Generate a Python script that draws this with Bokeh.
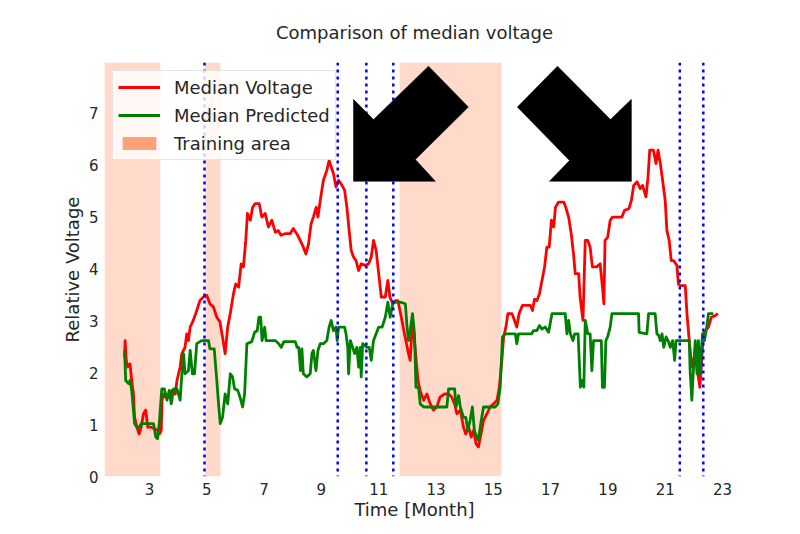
from bokeh.plotting import figure
from bokeh.models import Range1d, FixedTicker, Span, BoxAnnotation, Legend, LegendItem
from bokeh.embed import file_html
from bokeh.resources import INLINE

# ---- data ----
red_x = [2.13, 2.15, 2.19, 2.24, 2.32, 2.38, 2.44, 2.48, 2.56, 2.64, 2.71, 2.79, 2.87, 2.94, 3.06, 3.17,
         3.28, 3.35, 3.41, 3.44, 3.49, 3.55, 3.66, 3.78, 3.90, 3.96, 4.07, 4.13, 4.24, 4.30, 4.36, 4.42,
         4.53, 4.65, 4.76, 4.88, 5.00, 5.11, 5.23, 5.35, 5.46, 5.53, 5.64, 5.73, 5.82, 5.93, 6.01, 6.11,
         6.20, 6.28, 6.36, 6.42, 6.52, 6.60, 6.69, 6.83, 6.92, 7.04, 7.15, 7.27, 7.39, 7.50, 7.59, 7.73,
         7.91, 8.02, 8.14, 8.26, 8.37, 8.46, 8.55, 8.64, 8.72, 8.82, 8.88, 8.96, 9.07, 9.19, 9.27, 9.34,
         9.42, 9.51, 9.60, 9.69, 9.81, 9.89, 9.97, 10.04, 10.12, 10.21, 10.30, 10.39, 10.53, 10.65, 10.74,
         10.82, 10.91, 11.00, 11.09, 11.23, 11.32, 11.39, 11.49, 11.58, 11.67, 11.79, 11.90, 12.04, 12.10,
         12.18, 12.27, 12.37, 12.45, 12.57, 12.68, 12.80, 12.91, 13.03, 13.14, 13.30, 13.44, 13.55, 13.65,
         13.73, 13.85, 13.96, 14.04, 14.14, 14.23, 14.31, 14.40, 14.48, 14.57, 14.66, 14.78, 14.89, 15.01,
         15.13, 15.21, 15.30, 15.36, 15.44, 15.51, 15.65, 15.74, 15.82, 15.90, 16.02, 16.17, 16.29, 16.37,
         16.44, 16.52, 16.61, 16.70, 16.79, 16.87, 16.95, 17.03, 17.11, 17.17, 17.28, 17.46, 17.53, 17.63,
         17.72, 17.80, 17.86, 17.98, 18.03, 18.13, 18.21, 18.30, 18.38, 18.46, 18.61, 18.73, 18.81, 18.86,
         18.90, 18.99, 19.08, 19.16, 19.31, 19.49, 19.58, 19.73, 19.82, 19.90, 20.02, 20.13, 20.21, 20.33,
         20.40, 20.46, 20.59, 20.68, 20.75, 20.83, 20.91, 21.00, 21.06, 21.14, 21.21, 21.29, 21.41, 21.46,
         21.52, 21.70, 21.76, 21.84, 21.93, 22.05, 22.14, 22.21, 22.26, 22.33, 22.42, 22.51, 22.61, 22.75,
         22.84]
red_y = [2.30, 2.62, 2.24, 2.11, 2.17, 1.85, 1.59, 1.14, 0.95, 0.82, 0.95, 1.21, 1.28, 0.95, 0.95, 0.92,
         0.89, 0.82, 0.89, 1.47, 1.59, 1.53, 1.53, 1.66, 1.59, 1.85, 2.11, 2.37, 2.49, 2.75, 2.62, 2.88,
         3.01, 3.20, 3.39, 3.46, 3.49, 3.33, 3.27, 3.07, 2.98, 2.75, 2.37, 2.88, 3.14, 3.52, 3.71, 3.65,
         4.10, 4.04, 4.55, 5.07, 4.94, 5.19, 5.26, 5.26, 5.00, 5.07, 4.81, 4.94, 4.71, 4.74, 4.65, 4.68,
         4.68, 4.78, 4.68, 4.55, 4.42, 4.29, 4.48, 4.87, 5.00, 5.19, 5.00, 5.32, 5.71, 5.90, 6.09, 5.97,
         5.84, 5.58, 5.71, 5.64, 5.52, 5.19, 4.74, 4.36, 4.23, 4.16, 3.97, 4.10, 4.07, 4.10, 4.23,
         4.55, 4.36, 3.91, 3.46, 3.46, 3.78, 3.46, 3.33, 3.39, 3.39, 3.07, 2.75, 2.37, 2.24,
         3.01, 2.49, 1.85, 1.65, 1.47, 1.59, 1.40, 1.28, 1.34, 1.53, 1.59, 1.59, 1.53, 1.40,
         1.21, 1.28, 0.95, 0.82, 0.95, 0.76, 0.89, 0.63, 0.57, 0.82, 1.08, 1.21, 1.34, 1.40,
         1.47, 1.72, 2.24, 2.69, 2.88, 3.14, 3.14, 3.01, 2.88, 3.14, 3.30, 3.30, 3.30, 3.20,
         3.42, 3.39, 3.52, 3.78, 4.04, 4.42, 4.42, 4.94, 4.81, 5.19, 5.29, 5.29, 5.19, 5.00,
         4.68, 4.29, 3.91, 3.91, 3.46, 3.01, 4.55, 4.55, 4.42, 4.04, 4.04, 4.10, 3.65, 3.33,
         4.55, 4.61, 4.94, 5.00, 5.00, 5.00, 5.13, 5.16, 5.32, 5.61, 5.68, 5.55, 5.61, 5.39,
         5.77, 6.29, 6.29, 6.03, 6.29, 6.03, 5.71, 5.32, 4.74, 4.55, 4.16, 4.16, 4.07, 3.71,
         3.68, 3.68, 3.14, 2.62, 2.11, 2.37, 1.98, 1.72, 2.11, 2.75, 2.82, 2.88, 3.07, 3.10,
         3.14]

green_x = [2.13, 2.17, 2.27, 2.32, 2.38, 2.48, 2.56, 2.64, 2.71, 2.83, 2.97, 3.14, 3.22, 3.28, 3.34, 3.43,
           3.52, 3.61, 3.69, 3.76, 3.84, 3.96, 4.07, 4.13, 4.19, 4.24, 4.36, 4.42, 4.50, 4.57, 4.65, 4.82,
           5.06, 5.11, 5.26, 5.35, 5.41, 5.47, 5.55, 5.64, 5.73, 5.82, 5.90, 5.97, 6.08, 6.16, 6.25, 6.32,
           6.40, 6.57, 6.67, 6.76, 6.82, 6.88, 6.93, 7.02, 7.07, 7.22, 7.39, 7.51, 7.60, 7.69, 7.97, 8.09,
           8.15, 8.21, 8.27, 8.32, 8.37, 8.49, 8.61, 8.67, 8.72, 8.81, 8.88, 8.96, 9.07, 9.19, 9.27, 9.34,
           9.42, 9.51, 9.55, 9.60, 9.81, 9.86, 9.92, 9.95, 10.01, 10.09, 10.16, 10.24, 10.30, 10.36, 10.39,
           10.44, 10.59, 10.67, 10.74, 10.82, 10.91, 11.00, 11.12, 11.23, 11.32, 11.40, 11.49, 11.58, 11.75,
           11.93, 11.99, 12.04, 12.10, 12.18, 12.25, 12.30, 12.39, 12.45, 12.57, 12.74, 13.09, 13.38, 13.44,
           13.65, 13.70, 13.79, 13.85, 13.96, 14.04, 14.11, 14.19, 14.27, 14.34, 14.42, 14.48, 14.58, 14.66,
           15.07, 15.16, 15.24, 15.32, 15.42, 15.77, 15.82, 15.88, 16.34, 16.40, 16.52, 16.61, 16.70, 16.81,
           16.93, 17.05, 17.51, 17.57, 17.63, 17.69, 17.78, 17.84, 17.96, 18.04, 18.10, 18.16, 18.21, 18.30,
           18.38, 18.44, 18.50, 18.77, 18.81, 18.88, 18.93, 18.99, 19.08, 19.14, 20.07, 20.09, 20.36, 20.42,
           20.65, 20.71, 20.77, 20.83, 20.89, 20.95, 21.03, 21.10, 21.18, 21.26, 21.33, 21.38, 21.84, 21.87,
           21.93, 21.99, 22.05, 22.11, 22.16, 22.22, 22.30, 22.37, 22.45, 22.51, 22.68]
green_y = [2.43, 1.85, 1.79, 1.85, 1.66, 1.02, 0.95, 0.95, 1.02, 1.02, 1.02, 1.02, 0.76, 0.73, 1.02, 1.69,
           1.69, 1.47, 1.66, 1.40, 1.69, 1.69, 1.47, 1.98, 2.37, 1.98, 2.04, 2.43, 1.98, 1.98, 2.56, 2.62,
           2.62, 2.46, 2.46, 1.85, 1.40, 1.02, 1.14, 1.59, 1.40, 1.98, 1.92, 1.69, 1.66, 1.53, 1.34, 1.59,
           2.56, 2.60, 2.78, 2.81, 3.07, 3.07, 2.62, 2.88, 2.62, 2.62, 2.62, 2.56, 2.49, 2.60, 2.60, 2.60,
           2.49, 2.49, 2.04, 2.46, 1.98, 1.92, 1.98, 2.37, 2.43, 2.04, 2.43, 2.56, 2.56, 2.62, 2.88, 3.01,
           2.81, 2.88, 2.62, 2.88, 2.88, 2.75, 2.49, 1.98, 2.62, 2.49, 2.37, 2.49, 2.11, 2.49, 1.92,
           2.56, 2.49, 2.49, 2.24, 2.62, 2.75, 2.88, 2.88, 3.07, 3.36, 3.07, 3.33, 3.36, 3.36,
           3.33, 2.88, 2.62, 2.81, 3.14, 2.75, 1.72, 1.72, 1.40, 1.34, 1.34, 1.34, 1.34, 1.69,
           1.69, 1.34, 1.56, 1.34, 1.14, 1.14, 0.89, 1.08, 1.34, 0.89, 0.76, 0.70, 1.08, 1.34,
           1.34, 1.40, 1.72, 2.69, 2.75, 2.75, 2.56, 2.75, 2.75, 2.81, 2.81, 2.91, 2.84, 2.88,
           2.78, 3.14, 3.14, 2.75, 3.01, 2.75, 2.62, 2.75, 2.75, 1.72, 1.85, 1.72, 3.01, 2.75,
           2.75, 2.04, 2.62, 2.62, 1.72, 1.72, 2.62, 2.69, 2.88, 3.14, 3.14, 2.78, 2.75, 3.14,
           3.14, 2.75, 2.72, 2.62, 2.75, 2.49, 2.69, 2.62, 2.49, 2.62, 2.24, 2.62, 2.62, 2.04,
           1.47, 2.11, 2.62, 1.98, 2.62, 1.98, 2.75, 2.62, 2.88, 3.14, 3.14]

train_start = [1.43, 4.95, 11.73]
train_end = [3.38, 5.48, 15.29]
event_months = [4.92, 9.57, 10.57, 11.51, 21.51, 22.33]

arrow_sw_x = [10.12, 10.12, 10.82, 12.74, 14.13, 12.28, 12.98]
arrow_sw_y = [5.69, 7.27, 6.88, 7.91, 7.12, 6.11, 5.69]
arrow_se_x = [19.82, 19.82, 19.09, 17.24, 15.84, 17.66, 16.96]
arrow_se_y = [5.69, 7.27, 6.88, 7.91, 7.12, 6.09, 5.69]

x_ticks = [3, 5, 7, 9, 11, 13, 15, 17, 19, 21, 23]
y_ticks = [0, 1, 2, 3, 4, 5, 6, 7]

TXT = "#262626"
FONT = "DejaVu Sans"
Y0, Y1 = 0, 7.98

p = figure(frame_width=620, frame_height=414,
           min_border_left=104, min_border_top=62, min_border_right=50, min_border_bottom=40,
           x_range=Range1d(1.43, 23.07), y_range=Range1d(Y0, Y1),
           output_backend="svg", toolbar_location=None,
           title="Comparison of median voltage",
           x_axis_label="Time [Month]", y_axis_label="Relative Voltage")

p.background_fill_color = "white"
p.border_fill_color = "white"
p.outline_line_color = None
p.xgrid.visible = False
p.ygrid.visible = False

p.title.text_font = FONT
p.title.text_font_size = "18px"
p.title.text_font_style = "normal"
p.title.text_color = TXT
p.title.align = "center"
p.title.text_line_height = 1.0
p.title.standoff = 39

for ax in (p.xaxis[0], p.yaxis[0]):
    ax.axis_line_color = None
    ax.major_tick_line_color = None
    ax.minor_tick_line_color = None
    ax.major_tick_out = 0
    ax.major_tick_in = 0
    ax.major_label_text_font = FONT
    ax.major_label_text_font_size = "15px"
    ax.major_label_text_color = TXT
    ax.axis_label_text_font = FONT
    ax.axis_label_text_font_size = "18px"
    ax.axis_label_text_font_style = "normal"
    ax.axis_label_text_color = TXT
    ax.major_label_standoff = 6
    ax.axis_label_standoff = 3
p.xaxis[0].axis_label_standoff = 1

p.xaxis[0].ticker = FixedTicker(ticks=x_ticks)
p.yaxis[0].ticker = FixedTicker(ticks=y_ticks)

for s, e in zip(train_start, train_end):
    p.add_layout(BoxAnnotation(left=s, right=e, fill_color="#FFA07A", fill_alpha=0.4,
                               line_color=None, level="underlay"))

red_r = p.line(red_x, red_y, line_color="#FF0000", line_width=2.8, line_join="round")
green_r = p.line(green_x, green_y, line_color="#008000", line_width=2.8, line_join="round")
# zero-height quad: only used to show the full-colour patch in the legend
train_r = p.quad(left=train_start[:1], right=train_end[:1], top=[Y0], bottom=[Y0],
                 fill_color="#FFA07A", fill_alpha=1.0, line_color=None)

for m in event_months:
    p.add_layout(Span(location=m, dimension="height", line_color="#0000FF",
                      line_width=2.5, line_dash="3 4"))

arr = p.patches([arrow_sw_x, arrow_se_x], [arrow_sw_y, arrow_se_y],
                fill_color="black", line_color="black", line_width=0.5)
arr.level = "overlay"

legend = Legend(items=[LegendItem(label="Median Voltage", renderers=[red_r]),
                       LegendItem(label="Median Predicted", renderers=[green_r]),
                       LegendItem(label="Training area", renderers=[train_r])],
                location="top_left", margin=8, padding=5, spacing=6,
                glyph_width=42, glyph_height=16, label_height=22, label_standoff=14,
                label_text_font=FONT, label_text_font_size="18px", label_text_color=TXT,
                border_line_color="#cccccc", border_line_width=1,
                background_fill_color="white", background_fill_alpha=0.8)
p.add_layout(legend)

open("out.html", "w").write(file_html(p, INLINE))
